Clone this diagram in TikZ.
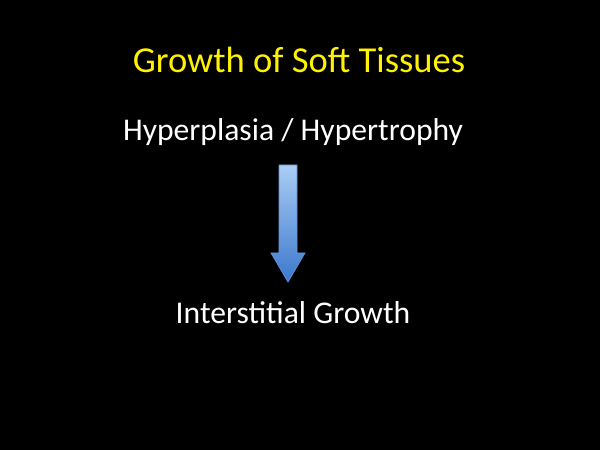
\documentclass[tikz,border=0pt]{standalone}
\usepackage{fontspec}
\setmainfont{Carlito}
\usetikzlibrary{calc, positioning}
\definecolor{arrowlight}{RGB}{170,205,245}
\definecolor{arrowdark}{RGB}{60,120,205}
\tikzset{txt/.style={text=white, inner sep=0pt}}

\begin{document}
\begin{tikzpicture}
	\fill[black] (0,0) rectangle (6,4.5);
	\useasboundingbox (0,0) rectangle (6,4.5);
	\node[txt, text=yellow, font=\fontsize{10.4}{12}\selectfont] (title) at (2.99,3.9) {Growth of Soft Tissues};
	\node[txt, font=\fontsize{9}{11}\selectfont] (hyper) at (2.93,3.18) {Hyperplasia / Hypertrophy};
	\node[txt, font=\fontsize{9}{11}\selectfont] (inter) at (2.93,1.37) {Interstitial Growth};

	% down arrow
	\shade[top color=arrowlight, bottom color=arrowdark, draw=arrowdark!80, line width=0.2pt]
		(2.79,2.85) -- (2.97,2.85) -- (2.97,1.97) -- (3.05,1.97)
		-- (2.88,1.68) -- (2.71,1.97) -- (2.79,1.97) -- cycle;
\end{tikzpicture}
\end{document}
